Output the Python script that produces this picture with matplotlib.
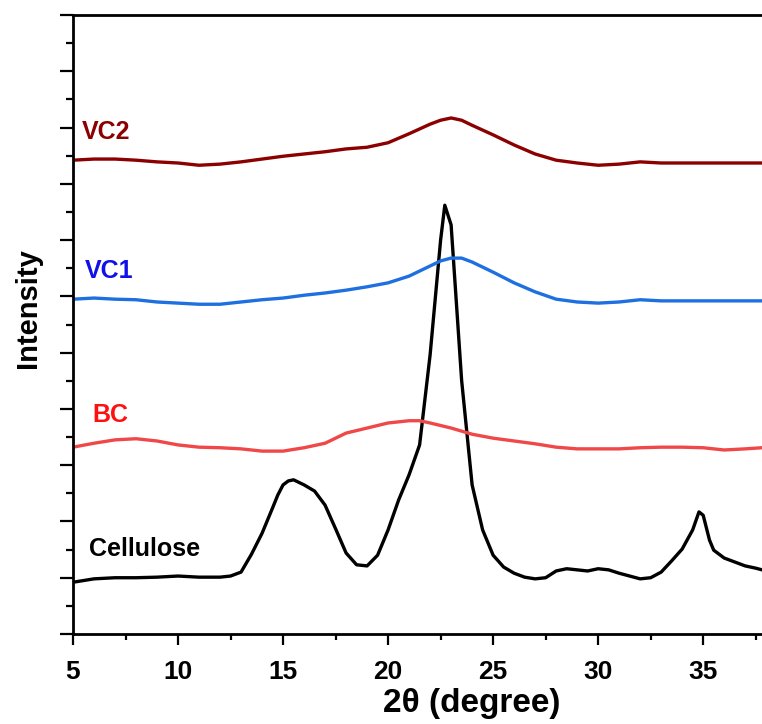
import matplotlib
matplotlib.use("Agg")
import matplotlib.pyplot as plt
from matplotlib.ticker import MultipleLocator

plt.rcParams['font.family'] = ['Liberation Sans', 'DejaVu Sans']
plt.rcParams['font.weight'] = 'bold'

# 2-theta positions (degree)
x_cel = [5.0, 6.0, 7.0, 8.0, 9.0, 10.0, 11.0, 12.0, 12.5, 13.0, 13.5, 14.0, 14.5, 14.75, 15.0,
         15.25, 15.5, 16.0, 16.5, 17.0, 17.5, 18.0, 18.5, 19.0, 19.5, 20.0, 20.5, 21.0, 21.5,
         22.0, 22.5, 22.7, 23.0, 23.5, 24.0, 24.5, 25.0, 25.5, 26.0, 26.5, 27.0, 27.5, 28.0,
         28.5, 29.0, 29.5, 30.0, 30.5, 31.0, 31.5, 32.0, 32.5, 33.0, 33.5, 34.0, 34.5, 34.8,
         35.0, 35.3, 35.5, 36.0, 36.5, 37.0, 37.5, 37.8]
y_cel = [92, 98, 100, 100, 101, 103, 101, 101, 103, 110, 142, 179, 224, 247, 265,
         272, 274, 265, 254, 229, 187, 144, 123, 121, 140, 185, 238, 283, 336,
         496, 700, 762, 727, 451, 265, 185, 140, 119, 108, 101, 98, 100, 112,
         116, 114, 112, 116, 114, 108, 103, 98, 100, 110, 130, 151, 185, 217,
         211, 167, 149, 135, 128, 121, 117, 114]

x_bc = [5.0, 6.0, 7.0, 8.0, 9.0, 10.0, 11.0, 12.0, 13.0, 14.0, 15.0, 16.0, 17.0, 17.5, 18.0,
        19.0, 20.0, 21.0, 21.5, 22.0, 23.0, 24.0, 25.0, 26.0, 27.0, 28.0, 29.0, 30.0, 31.0,
        32.0, 33.0, 34.0, 35.0, 36.0, 37.0, 37.8]
y_bc = [332, 339, 345, 347, 343, 336, 332, 331, 329, 325, 325, 331, 339, 348, 357,
        366, 375, 379, 379, 375, 366, 355, 348, 343, 338, 332, 329, 329, 329,
        331, 332, 332, 331, 327, 329, 331]

x_vc = [5.0, 6.0, 7.0, 8.0, 9.0, 10.0, 11.0, 12.0, 13.0, 14.0, 15.0, 16.0, 17.0, 18.0, 19.0,
        20.0, 21.0, 22.0, 22.5, 23.0, 23.5, 24.0, 25.0, 26.0, 27.0, 28.0, 29.0, 30.0, 31.0,
        32.0, 33.0, 34.0, 35.0, 36.0, 37.0, 37.8]
y_vc1 = [595, 597, 595, 594, 590, 588, 586, 586, 590, 594, 597, 602, 606, 611, 617,
         624, 636, 654, 663, 668, 668, 661, 643, 624, 608, 595, 590, 588, 590,
         594, 592, 592, 592, 592, 592, 592]
y_vc2 = [842, 844, 844, 842, 839, 837, 833, 835, 839, 844, 849, 853, 857, 862, 865,
         873, 889, 906, 913, 917, 913, 904, 887, 869, 853, 842, 837, 833, 835,
         839, 837, 837, 837, 837, 837, 837]

labels = ["Cellulose", "BC", "VC1", "VC2"]
label_x = [5.76, 5.9, 5.57, 5.43]
label_y = [151, 389, 645, 892]
line_colors = ["#000000", "#F04848", "#1E6FE0", "#8B0000"]
text_colors = ["#000000", "#FF1010", "#1010E8", "#8B0000"]

fig = plt.figure(figsize=(7.62, 7.24), dpi=100)
ax = fig.add_axes([73/762, (724-634)/724, (762-73)/762, (634-15)/724])

series = [(x_cel, y_cel), (x_bc, y_bc), (x_vc, y_vc1), (x_vc, y_vc2)]
for (xs, ys), c in zip(series, line_colors):
    ax.plot(xs, ys, color=c, lw=2.4, solid_joinstyle='round')

for t, lx, ly, tc in zip(labels, label_x, label_y, text_colors):
    ax.text(lx, ly, t, color=tc, fontsize=18, fontweight='bold', ha='left', va='center')

ax.set_xlim(5, 37.8)
ax.set_ylim(0, 1100)
ax.xaxis.set_major_locator(MultipleLocator(5))
ax.xaxis.set_minor_locator(MultipleLocator(2.5))
ax.yaxis.set_major_locator(MultipleLocator(100))
ax.yaxis.set_minor_locator(MultipleLocator(50))
ax.set_yticklabels([])
ax.tick_params(axis='both', which='both', direction='out', width=1.6, top=False, right=False)
ax.tick_params(axis='y', which='major', length=9.5)
ax.tick_params(axis='y', which='minor', length=5)
ax.tick_params(axis='x', which='major', length=8, labelsize=19, pad=11)
ax.tick_params(axis='x', which='minor', length=4.5)
for lab in ax.get_xticklabels():
    lab.set_fontweight('bold')

for s in ['left', 'bottom', 'top']:
    ax.spines[s].set_linewidth(2)
ax.spines['right'].set_visible(False)

ax.set_xlabel("2\u03b8 (degree)", fontsize=24, fontweight='bold')
ax.xaxis.set_label_coords(0.579, -0.087)
ax.set_ylabel("Intensity", fontsize=21, fontweight='bold')
ax.yaxis.set_label_coords(-0.045, 0.527)

fig.savefig("out.png", dpi=100)
